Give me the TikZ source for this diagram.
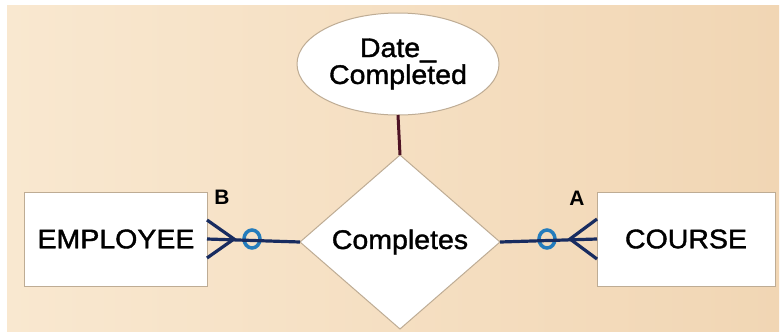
\documentclass[tikz,border=0pt]{standalone}
\usepackage{fontspec}
\setmainfont{Liberation Sans}
\newfontfamily\erfont{Liberation Sans}[FakeStretch=1.06, FakeBold=1.4]
\usepackage{xcolor}
\usetikzlibrary{shapes.geometric}

\definecolor{peachL}{RGB}{249,232,208}
\definecolor{peachR}{RGB}{241,214,180}
\definecolor{edgeTan}{RGB}{190,172,148}
\definecolor{linkNavy}{RGB}{24,44,96}
\definecolor{ringBlue}{RGB}{36,124,188}
\definecolor{attrMaroon}{RGB}{78,18,36}

\begin{document}
\begin{tikzpicture}[x=1bp, y=-1bp,
  entity/.style={draw=edgeTan, line width=1bp, fill=white, rectangle,
    minimum height=94bp, inner sep=0pt, outer sep=0pt,
    font=\erfont\fontsize{27}{28}\selectfont},
  relation/.style={draw=edgeTan, line width=1bp, fill=white, diamond,
    minimum width=200bp, minimum height=174bp, inner sep=0pt, outer sep=0pt,
    font=\erfont\fontsize{27}{28}\selectfont},
  attribute/.style={draw=edgeTan, line width=1bp, fill=white, ellipse,
    minimum width=202bp, minimum height=102bp, inner sep=0pt, outer sep=0pt,
    align=center, font=\erfont\fontsize{27}{27}\selectfont},
  link/.style={draw=linkNavy, line width=3.2bp},
  ring/.style={draw=ringBlue, line width=3.5bp},
  attrlink/.style={draw=attrMaroon, line width=3bp},
  cardlabel/.style={font=\bfseries\fontsize{21}{22}\selectfont}]

  % Background
  \fill[white] (0,0) rectangle (782,333);
  \shade[left color=peachL, right color=peachR] (7,5) rectangle (779,331);

  % Entities
  \node[entity, minimum width=182bp] (emp) at (116,239) {EMPLOYEE};
  \node[entity, minimum width=178bp] (course) at (686,239) {COURSE};

  % Relationship
  \node[relation] (comp) at (400,242) {Completes};

  % Attribute
  \node[attribute] (date) at (398,64) {Date\_\\Completed};
  \draw[attrlink] (date.south) -- (comp.north);

  % Employee side (B)
  \draw[ring] ([xshift=45bp]emp.east) ellipse (8 and 9);
  \draw[link] (emp.east) -- (comp.west);
  \coordinate (bfork) at ([xshift=27bp]emp.east);
  \draw[link] ([yshift=-19bp]emp.east) -- (bfork) -- ([yshift=19bp]emp.east);
  \node[cardlabel] (bl) at (222,197) {B};

  % Course side (A)
  \draw[ring] ([xshift=-50bp]course.west) ellipse (8 and 9);
  \draw[link] (comp.east) -- (course.west);
  \coordinate (afork) at ([xshift=-27bp]course.west);
  \draw[link] ([yshift=-20bp]course.west) -- (afork) -- ([yshift=20bp]course.west);
  \node[cardlabel] (al) at (577,198) {A};

\end{tikzpicture}
\end{document}
